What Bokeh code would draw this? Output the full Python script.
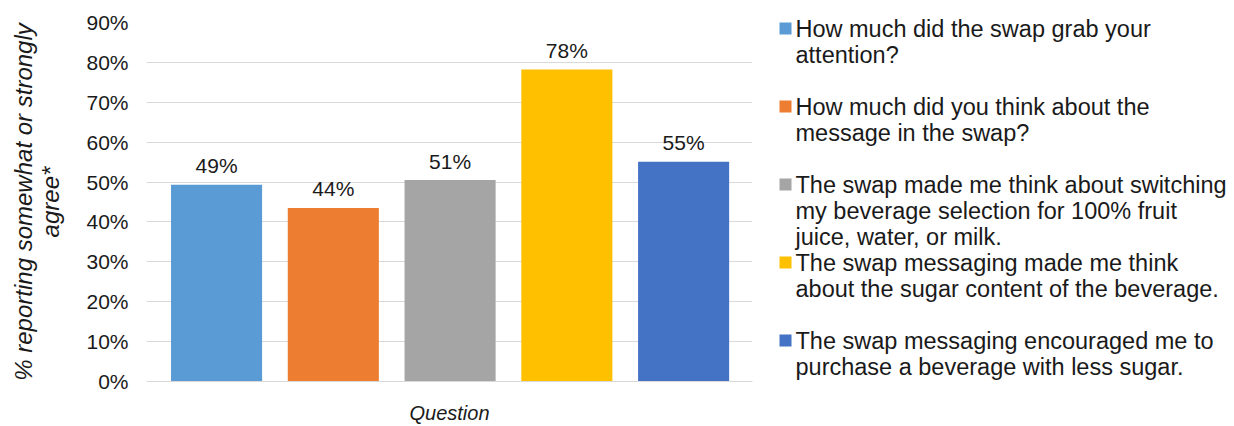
from bokeh.plotting import figure
from bokeh.layouts import row, column
from bokeh.models import (Range1d, SingleIntervalTicker, PrintfTickFormatter, ColumnDataSource,
                          FixedTicker)
from bokeh.core.properties import value
from bokeh.embed import file_html
from bokeh.resources import INLINE

# ---- data ----
questions = [
    "How much did the swap grab your\nattention?",
    "How much did you think about the\nmessage in the swap?",
    "The swap made me think about switching\nmy beverage selection for 100% fruit\njuice, water, or milk.",
    "The swap messaging made me think\nabout the sugar content of the beverage.",
    "The swap messaging encouraged me to\npurchase a beverage with less sugar.",
]
values = [49.3, 43.5, 50.5, 78.2, 55.1]
value_labels = ["49%", "44%", "51%", "78%", "55%"]
colors = ["#5B9BD5", "#ED7D31", "#A5A5A5", "#FFC000", "#4472C4"]
y_ticks_max = 90

FONT = "Liberation Sans"
TXT = "#1a1a1a"

# ---- main chart ----
xs = list(range(len(values)))
src = ColumnDataSource(dict(x=xs, top=values, color=colors, label=value_labels))

p = figure(width=770, height=426, output_backend="svg", toolbar_location=None,
           x_range=Range1d(-0.6, 4.59), y_range=Range1d(0, y_ticks_max),
           min_border_left=146, min_border_right=18, min_border_top=22, min_border_bottom=44)
p.outline_line_color = None
p.background_fill_color = "white"
p.border_fill_color = "white"

p.vbar(x="x", top="top", width=0.78, color="color", source=src, line_color=None)
p.text(x="x", y="top", text="label", source=src, text_align="center",
       text_baseline="alphabetic", y_offset=-19, text_font=value(FONT),
       text_font_size="21px", text_color=TXT)

p.xgrid.grid_line_color = None
p.ygrid.grid_line_color = "#D9D9D9"
p.ygrid.grid_line_width = 1

yax = p.yaxis[0]
yax.ticker = SingleIntervalTicker(interval=10, num_minor_ticks=0)
yax.formatter = PrintfTickFormatter(format="%d%%")
yax.axis_line_color = None
yax.major_tick_line_color = None
yax.minor_tick_line_color = None
yax.major_tick_out = 0
yax.major_label_standoff = 18
yax.major_label_text_font = FONT
yax.major_label_text_font_size = "21px"
yax.major_label_text_color = TXT
yax.axis_label = "% reporting somewhat or strongly\nagree*"
yax.axis_label_text_font = FONT
yax.axis_label_text_font_size = "24px"
yax.axis_label_text_font_style = "italic"
yax.axis_label_text_color = TXT
yax.axis_label_text_line_height = 1.0
yax.axis_label_standoff = 19

xax = p.xaxis[0]
xax.ticker = FixedTicker(ticks=[])
xax.axis_line_color = "#D9D9D9"
xax.major_tick_line_color = None
xax.minor_tick_line_color = None
xax.major_tick_out = 0
xax.major_label_standoff = 0
xax.axis_label = "Question"
xax.axis_label_text_font = FONT
xax.axis_label_text_font_size = "20px"
xax.axis_label_text_font_style = "italic"
xax.axis_label_text_color = TXT
xax.axis_label_standoff = 20

# ---- legend panel (y in page pixels) ----
lg = figure(width=464, height=426, output_backend="svg", toolbar_location=None,
            x_range=Range1d(0, 464), y_range=Range1d(426, 0),
            x_axis_type=None, y_axis_type=None,
            min_border_left=0, min_border_right=0,
            min_border_top=0, min_border_bottom=0)
lg.outline_line_color = None
lg.xgrid.visible = False
lg.ygrid.visible = False

first_base = 36
slot = 78
line_h = 26
sq_x, sq_y, tx, ty, tl = [], [], [], [], []
for i, q in enumerate(questions):
    base = first_base + i * slot
    sq_x.append(15)
    sq_y.append(base - 8)
    for j, line in enumerate(q.split("\n")):
        tx.append(25)
        ty.append(base + j * line_h)
        tl.append(line)

lg.scatter(x=sq_x, y=sq_y, marker="square", size=12, color=colors, line_color=None)
lg.text(x=tx, y=ty, text=tl, text_align="left", text_baseline="alphabetic", y_offset=-8,
        text_font=value(FONT), text_font_size="23.5px", text_color=TXT)

layout = row(column(p), column(lg))
open("out.html", "w").write(file_html(layout, INLINE))
